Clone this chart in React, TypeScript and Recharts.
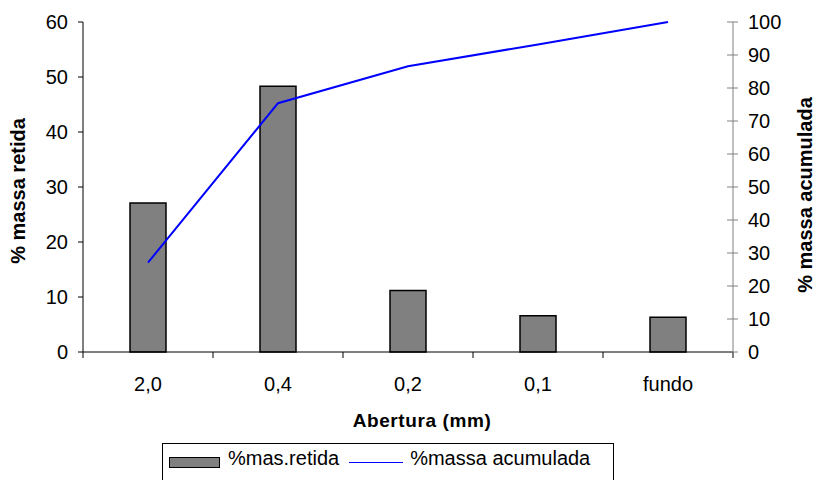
import { ComposedChart, Bar, Line, XAxis, YAxis, Legend } from 'recharts';

const categorias = ['2,0', '0,4', '0,2', '0,1', 'fundo'];
const massaRetida = [27.1, 48.3, 11.2, 6.6, 6.3];
const massaAcumulada = [27.1, 75.4, 86.6, 93.2, 100];
const ticksRetida = [0, 10, 20, 30, 40, 50, 60];
const ticksAcumulada = [0, 10, 20, 30, 40, 50, 60, 70, 80, 90, 100];

const FONT = '"Liberation Sans", Arial, sans-serif';
const X_TICK_SIZE = 6;
const X_TICK_MARGIN = 19;
const R_TICK_SIZE = 5;
const R_TICK_MARGIN = 10;

const chartData = categorias.map((c, i) => ({
  abertura: c,
  retida: massaRetida[i],
  acumulada: massaAcumulada[i],
}));

function XTick(props: any) {
  const { x, y, payload, index, width, visibleTicksCount } = props;
  const half = width / visibleTicksCount / 2;
  const axisY = y - X_TICK_SIZE - X_TICK_MARGIN;
  return (
    <g>
      <line x1={x - half} x2={x - half} y1={axisY} y2={axisY + X_TICK_SIZE} stroke="#000" />
      {index === visibleTicksCount - 1 && (
        <line x1={x + half} x2={x + half} y1={axisY} y2={axisY + X_TICK_SIZE} stroke="#000" />
      )}
      <text x={x} y={y} dy="0.71em" textAnchor="middle" fill="#000" fontSize={20} fontFamily={FONT}>
        {payload.value}
      </text>
    </g>
  );
}

function RightTick(props: any) {
  const { x, y, payload } = props;
  const axisX = x - R_TICK_SIZE - R_TICK_MARGIN;
  return (
    <g>
      <line x1={axisX - 6} x2={axisX + R_TICK_SIZE} y1={y} y2={y} stroke="#808080" />
      <text x={x} y={y} dy="0.355em" textAnchor="start" fill="#000" fontSize={20} fontFamily={FONT}>
        {payload.value}
      </text>
    </g>
  );
}

function LegendBox() {
  return (
    <div
      style={{
        border: '1px solid #000',
        background: '#fff',
        height: 40,
        boxSizing: 'border-box',
        display: 'flex',
        alignItems: 'flex-start',
        paddingTop: 3,
        paddingLeft: 6,
        fontFamily: FONT,
        fontSize: 20,
        color: '#000',
        whiteSpace: 'nowrap',
      }}
    >
      <span style={{ display: 'inline-block', width: 49, height: 9, background: '#808080', border: '1px solid #000', marginTop: 10, marginRight: 8 }} />
      <span>%mas.retida</span>
      <span style={{ display: 'inline-block', width: 54, height: 0, borderTop: '1.5px solid #0000ff', marginTop: 15, marginLeft: 10, marginRight: 7 }} />
      <span>%massa acumulada</span>
    </div>
  );
}

export default function App() {
  return (
    <div style={{ position: 'absolute', left: 0, top: 0, width: 816, height: 480, overflow: 'hidden', background: '#fff' }}>
      <ComposedChart
        width={816}
        height={480}
        data={chartData}
        margin={{ top: 22, right: 0, bottom: 48, left: 0 }}
      >
        <XAxis
          dataKey="abertura"
          height={80}
          stroke="#000"
          tickLine={false}
          tickSize={X_TICK_SIZE}
          tickMargin={X_TICK_MARGIN}
          tick={<XTick />}
          interval={0}
          label={{
            content: ({ viewBox }: any) => (
              <text
                x={viewBox.x + viewBox.width / 2 + 14}
                y={viewBox.y + viewBox.height - 5}
                textAnchor="middle"
                fontSize={19}
                fontWeight="bold"
                letterSpacing={0.6}
                fontFamily={FONT}
                fill="#000"
              >
                Abertura (mm)
              </text>
            ),
          }}
        />
        <YAxis
          yAxisId="left"
          width={83}
          domain={[0, 60]}
          ticks={ticksRetida}
          interval={0}
          stroke="#000"
          tickSize={5}
          tickMargin={10}
          tick={{ fill: '#000', fontSize: 20, fontFamily: FONT }}
          label={{
            content: ({ viewBox }: any) => {
              const cx = viewBox.x + 18;
              const cy = viewBox.y + viewBox.height / 2 + 4;
              return (
                <text
                  x={cx}
                  y={cy}
                  transform={`rotate(-90 ${cx} ${cy})`}
                  textAnchor="middle"
                  dominantBaseline="central"
                  fontSize={20}
                  fontWeight="bold"
                  fontFamily={FONT}
                  fill="#000"
                >
                  % massa retida
                </text>
              );
            },
          }}
        />
        <YAxis
          yAxisId="right"
          orientation="right"
          width={83}
          domain={[0, 100]}
          ticks={ticksAcumulada}
          interval={0}
          stroke="#808080"
          tickLine={false}
          tickSize={R_TICK_SIZE}
          tickMargin={R_TICK_MARGIN}
          tick={<RightTick />}
          label={{
            content: ({ viewBox }: any) => {
              const cx = viewBox.x + 72;
              const cy = viewBox.y + viewBox.height / 2 + 8;
              return (
                <text
                  x={cx}
                  y={cy}
                  transform={`rotate(-90 ${cx} ${cy})`}
                  textAnchor="middle"
                  dominantBaseline="central"
                  fontSize={20}
                  fontWeight="bold"
                  fontFamily={FONT}
                  fill="#000"
                >
                  % massa acumulada
                </text>
              );
            },
          }}
        />
        <Bar
          yAxisId="left"
          dataKey="retida"
          name="%mas.retida"
          fill="#808080"
          stroke="#000"
          strokeWidth={1.5}
          barSize={36}
          isAnimationActive={false}
        />
        <Line
          yAxisId="right"
          dataKey="acumulada"
          name="%massa acumulada"
          type="linear"
          stroke="#0000ff"
          strokeWidth={2}
          dot={false}
          activeDot={false}
          isAnimationActive={false}
        />
        <Legend
          layout="vertical"
          align="center"
          verticalAlign="middle"
          wrapperStyle={{ left: 162, top: 443, width: 452, height: 40 }}
          content={() => <LegendBox />}
        />
      </ComposedChart>
    </div>
  );
}
